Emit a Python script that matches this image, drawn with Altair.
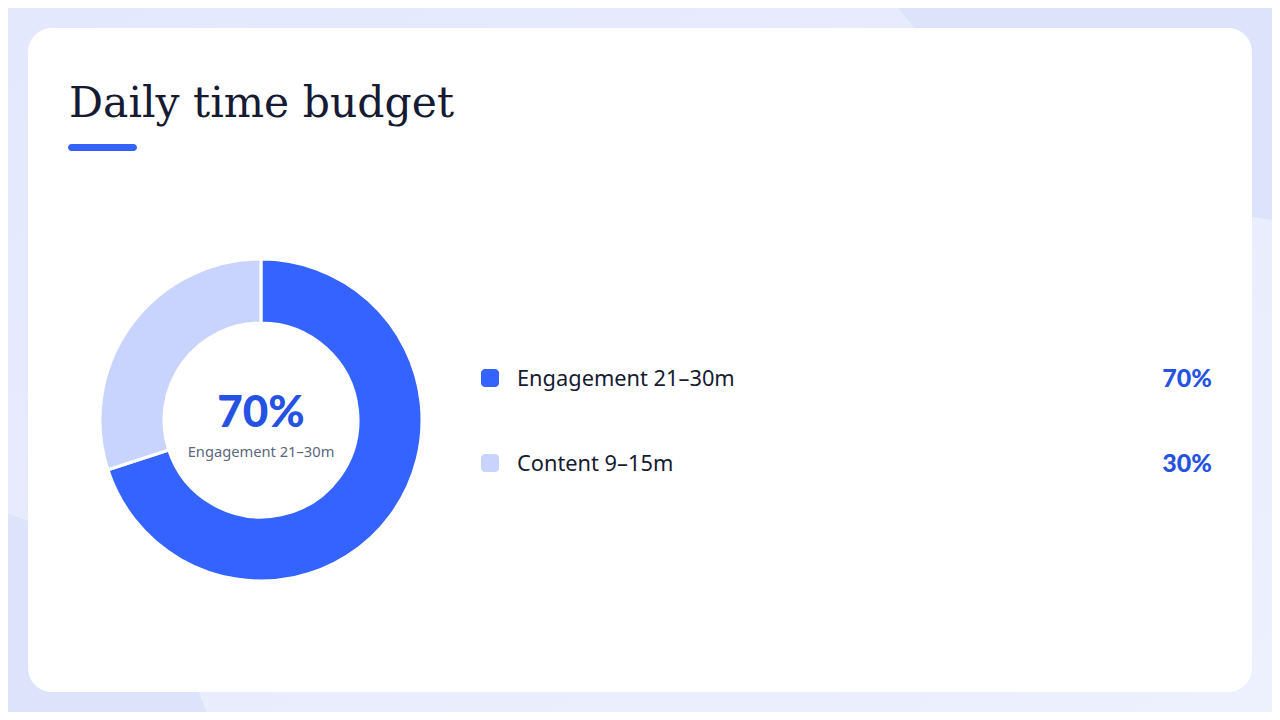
import altair as alt
import pandas as pd

# ---- data ----
title_text = "Daily time budget"
categories = ["Engagement 21–30m", "Content 9–15m"]
shares = [70, 30]
colors = ["#3563FF", "#C8D4FD"]

df = pd.DataFrame({
    "category": categories,
    "share": shares,
    "rank": list(range(len(categories))),
})
df["pct"] = [f"{v}%" for v in shares]
lead = df.iloc[[0]]
one = pd.DataFrame({"k": [0]})

W, H = 1264, 704
SANS = "Noto Sans"
NUM = "Lato"
SERIF = "DejaVu Serif"
NAVY = "#161B33"
PCT_BLUE = "#2552E3"

# ---- decoration ----
bg = alt.Chart(one).mark_rect(
    color=alt.Gradient(
        gradient="linear",
        stops=[alt.GradientStop(color="#E3E8FC", offset=0),
               alt.GradientStop(color="#EDF0FD", offset=1)],
        x1=0, y1=0, x2=1, y2=1,
    )
).encode(x=alt.value(0), x2=alt.value(W), y=alt.value(0), y2=alt.value(H))

blob_tr = alt.Chart(one).mark_point(
    shape="circle", filled=True, opacity=1, strokeWidth=0, color="#DCE3FB",
    size=(2 * 575) ** 2,
).encode(x=alt.value(1340), y=alt.value(-358))

blob_bl = alt.Chart(one).mark_point(
    shape="circle", filled=True, opacity=1, strokeWidth=0, color="#DCE3FB",
    size=(2 * 312) ** 2,
).encode(x=alt.value(-98), y=alt.value(802))

card = alt.Chart(one).mark_rect(color="white", cornerRadius=24).encode(
    x=alt.value(20), x2=alt.value(1244), y=alt.value(20), y2=alt.value(684)
)

title = alt.Chart(one).mark_text(
    text=title_text, font=SERIF, fontSize=42.5, color=NAVY,
    align="left", baseline="alphabetic",
).encode(x=alt.value(61), y=alt.value(109))

underline = alt.Chart(one).mark_rect(color="#3563FF", cornerRadius=3.5).encode(
    x=alt.value(60), x2=alt.value(129), y=alt.value(136), y2=alt.value(143)
)

# ---- donut ----
color_scale = alt.Scale(domain=categories, range=colors)

donut = alt.Chart(df).mark_arc(
    innerRadius=97, outerRadius=161, stroke="white", strokeWidth=3
).encode(
    theta=alt.Theta("share:Q", stack=True),
    color=alt.Color("category:N", scale=color_scale, legend=None),
    order=alt.Order("rank:Q"),
    x=alt.value(253), y=alt.value(412),
)

center_pct = alt.Chart(lead).mark_text(
    font=NUM, fontSize=44, fontWeight=900, color=PCT_BLUE,
    align="center", baseline="alphabetic",
).encode(text="pct:N", x=alt.value(253), y=alt.value(419))

center_lbl = alt.Chart(lead).mark_text(
    font=SANS, fontSize=14.7, color="#5C6680",
    align="center", baseline="alphabetic",
).encode(text="category:N", x=alt.value(253), y=alt.value(449))

# ---- legend ----
row_y = alt.Y("category:N", scale=alt.Scale(type="point", domain=categories,
                                               range=[370, 455], padding=0),
              axis=None)

rounded_sq = ("M-0.55,-1H0.55A0.45,0.45 0 0 1 1,-0.55V0.55A0.45,0.45 0 0 1 0.55,1"
              "H-0.55A0.45,0.45 0 0 1 -1,0.55V-0.55A0.45,0.45 0 0 1 -0.55,-1Z")

swatches = alt.Chart(df).mark_point(
    shape=rounded_sq, filled=True, opacity=1, strokeWidth=0, size=324
).encode(
    x=alt.value(482), y=row_y,
    color=alt.Color("category:N", scale=color_scale, legend=None),
)

labels = alt.Chart(df).mark_text(
    font=SANS, fontSize=21.8, color=NAVY, align="left", baseline="middle", dy=1
).encode(text="category:N", x=alt.value(509), y=row_y)

values = alt.Chart(df).mark_text(
    font=NUM, fontSize=25, fontWeight=900, color=PCT_BLUE,
    align="right", baseline="middle", dy=1
).encode(text="pct:N", x=alt.value(1204), y=row_y)

chart = alt.layer(
    bg, blob_tr, blob_bl, card, title, underline,
    donut, center_pct, center_lbl, swatches, labels, values,
).properties(
    width=W, height=H, padding=0,
    autosize=alt.AutoSizeParams(type="none"),
).configure_view(strokeWidth=0).configure(background="white")

chart.save("out.html", embed_options={"renderer": "svg", "actions": False})
